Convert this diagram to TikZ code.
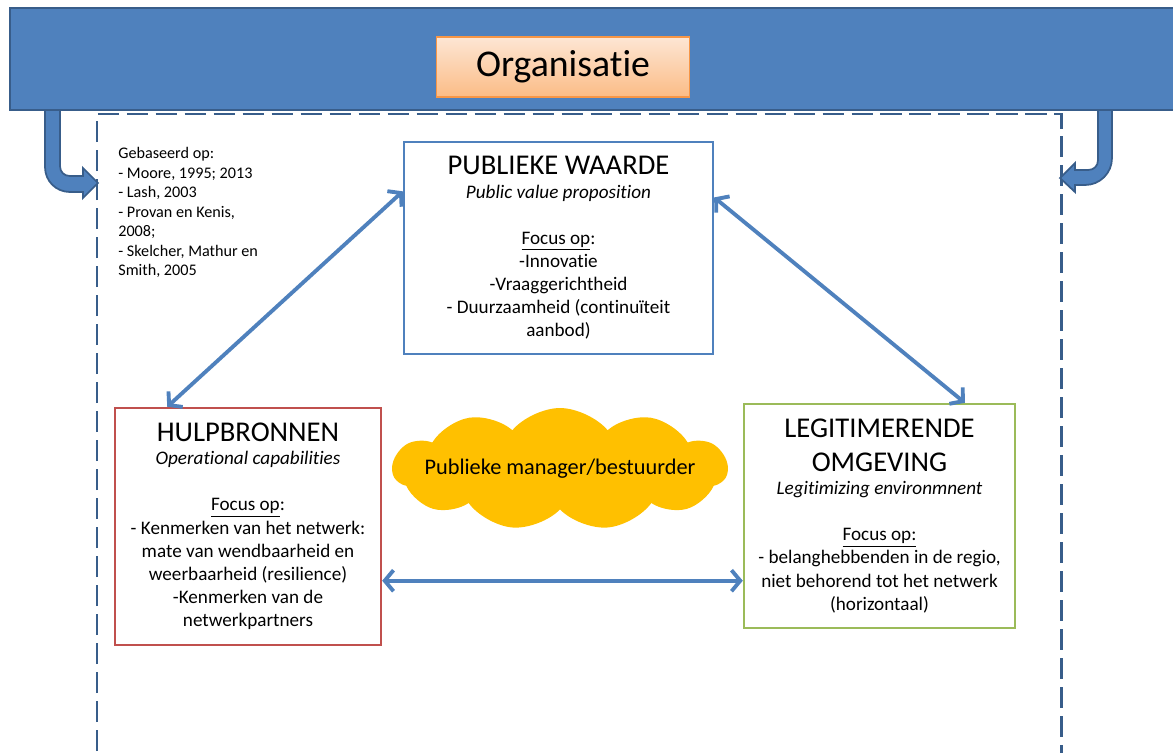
\documentclass[tikz,border=0pt]{standalone}
\usepackage{fontspec}
\setmainfont{Carlito}[Ligatures=NoCommon]
\usetikzlibrary{arrows.meta, shapes.symbols}

\definecolor{barblue}{HTML}{4F81BD}
\definecolor{darkblue}{HTML}{385D8A}
\definecolor{orgtop}{HTML}{FDE6D4}
\definecolor{orgbottom}{HTML}{FBBC86}
\definecolor{orgline}{HTML}{F79646}
\definecolor{redline}{HTML}{C0504D}
\definecolor{greenline}{HTML}{9BBB59}
\definecolor{cloudyellow}{HTML}{FFC000}

\newcommand{\boxhead}{\fontsize{16.3}{19.5}\selectfont}
\newcommand{\boxbody}{\fontsize{10.9}{13.2}\selectfont}

\begin{document}
\begin{tikzpicture}[x=0.02cm, y=-0.02cm,
  box/.style={draw, line width=1.4pt, fill=white, align=center, inner sep=0pt, font=\boxbody},
  link/.style={draw=barblue, line width=2.2pt, line join=round,
    {Straight Barb[length=5pt,width=12pt]}-{Straight Barb[length=5pt,width=12pt]}},
  bendarrow/.style={fill=barblue, draw=darkblue, line width=1pt}]

  \useasboundingbox (0,0) rectangle (1173,753);
  \clip (0,0) rectangle (1173,753);

  % Organisatie bar
  \draw[fill=barblue, draw=darkblue, line width=1.2pt] (10,8) rectangle (1190,110);
  \node (org) [draw=orgline, line width=0.8pt, top color=orgtop, bottom color=orgbottom,
    minimum width=5.06cm, minimum height=1.2cm, font=\fontsize{21.5}{25}\selectfont] at (563,67) {Organisatie};

  % dashed frame
  \draw[darkblue, line width=1.7pt, dash pattern=on 12pt off 4.5pt] (97,780) -- (97,114) -- (1061,114) -- (1061,780);

  % bent arrows down from the bar
  \filldraw[bendarrow] (45,110) -- (45,167) .. controls (45,181) and (56,192) .. (70,192) -- (83,192) -- (83,198)
    -- (98,183) -- (83,168) -- (83,176) -- (70,176) .. controls (64,176) and (60,172) .. (60,166) -- (60,110) -- cycle;
  \filldraw[bendarrow] (1112,110) -- (1112,158) .. controls (1112,173) and (1100,185) .. (1085,185) -- (1075,185) -- (1075,192)
    -- (1060,178) -- (1075,163) -- (1075,170) -- (1088,170) .. controls (1094,170) and (1098,166) .. (1098,160) -- (1098,110) -- cycle;

  % sources
  \node (bron) [anchor=north west, align=left, inner sep=0pt, font=\fontsize{9.2}{11.1}\selectfont] at (118,147)
    {Gebaseerd op:\\- Moore, 1995; 2013\\- Lash, 2003\\- Provan en Kenis,\\2008;\\- Skelcher, Mathur en\\Smith, 2005};

  % Publieke waarde
  \node (pw) [box, draw=barblue, minimum width=6.18cm, minimum height=4.24cm] at (558.5,248)
    {{\boxhead PUBLIEKE WAARDE}\\ \textit{Public value proposition}\\[13pt]
     \underline{Focus op}:\\ -Innovatie\\ -Vraaggerichtheid\\ - Duurzaamheid (continuïteit\\ aanbod)};

  % Hulpbronnen
  \node (hulp) [box, draw=redline, minimum width=5.32cm, minimum height=4.74cm] at (248,526.5)
    {{\boxhead HULPBRONNEN}\\ \textit{Operational capabilities}\\[13pt]
     \underline{Focus op}:\\ - Kenmerken van het netwerk:\\ mate van wendbaarheid en\\ weerbaarheid (resilience)\\
     -Kenmerken van de\\ netwerkpartners};

  % Legitimerende omgeving
  \node (legit) [box, draw=greenline, minimum width=5.42cm, minimum height=4.48cm] at (879.5,516)
    {{\boxhead LEGITIMERENDE}\\[6pt] {\boxhead OMGEVING}\\ \textit{Legitimizing environmnent}\\[13pt]
     \underline{Focus op:}\\ - belanghebbenden in de regio,\\ niet behorend tot het netwerk\\ (horizontaal)};

  % manager
  \node (manager) [cloud, cloud puffs=11, cloud puff arc=100, cloud ignores aspect, fill=cloudyellow,
    minimum width=6.7cm, minimum height=2.44cm] at (560,469) {};
  \node (managertext) [font=\fontsize{12.7}{15}\selectfont] at (manager.center) {Publieke manager/bestuurder};

  % links
  \draw[link] (hulp.124.5) -- (pw.160.4);
  \draw[link] (pw.18.9) -- (legit.53.4);
  \draw[link] (hulp.-22) -- (hulp.-22 -| legit.west);

\end{tikzpicture}
\end{document}
